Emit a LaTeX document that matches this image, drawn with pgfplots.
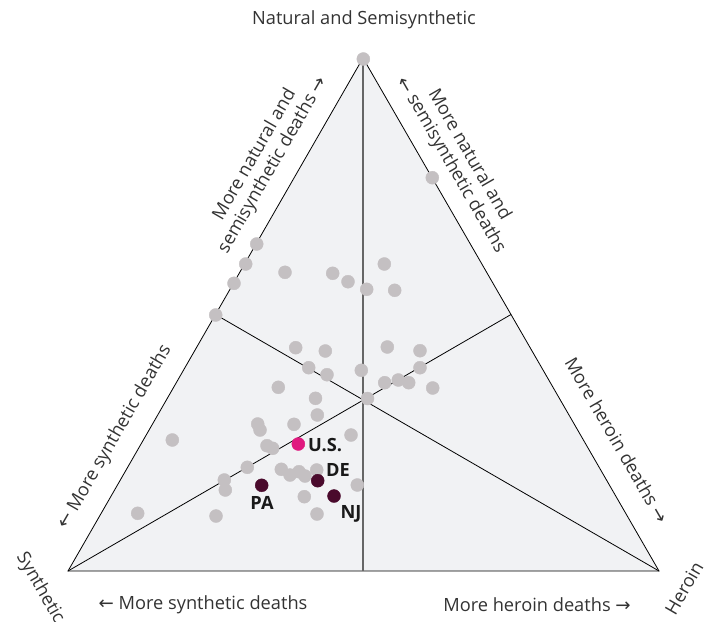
\documentclass[border=0pt]{standalone}
\usepackage{pgfplots}
\pgfplotsset{compat=1.18}
\usepackage{fontspec}
\setmainfont{Open Sans}
\newfontfamily\sym{DejaVu Sans}
\definecolor{tri}{HTML}{F1F2F4}
\definecolor{dot}{HTML}{C4C0C2}
\definecolor{us}{HTML}{E0197F}
\definecolor{state}{HTML}{4A0A2C}
\definecolor{txt}{HTML}{333333}
\newcommand{\la}{{\sym\char"2190}}
\newcommand{\ra}{{\sym\char"2192}}

\pgfplotstableread{
x y
363.3 59
432.3 177.7
256.7 244
245.7 264
234.0 283.3
215.7 315
285.0 272.3
332.7 273.3
348.0 281.7
366.7 289.3
384.3 264
394.7 290.3
295.7 347.7
325.3 351
308.7 367.7
327.0 374.7
361.3 370.3
387.3 347
420.0 350.7
420.0 367.7
384.7 382.7
398.3 380
408.7 382.7
432.7 388
278.3 387.3
315.5 398.3
367.5 398.5
317.3 415
257.7 424
260.0 430
294.0 424.3
172.3 440
351.0 435
267.0 445.7
272.7 448.3
247.3 467.3
281.3 469.3
290.0 475
299.0 471.7
305.0 476
316.7 470
224.3 480
225.3 490
357.3 485
304.3 496.7
137.7 513.3
216.0 516
317.0 514
}\others

\begin{document}
\begin{tikzpicture}
\begin{axis}[
  width=714bp, height=622bp,
  scale only axis,
  xmin=0, xmax=714, ymin=0, ymax=622,
  y dir=reverse,
  axis lines=none,
  clip=false,
  font=\fontsize{18.3}{21}\selectfont,
]
% triangle
\addplot[fill=tri, draw=black, line width=0.8bp] coordinates {(363,58) (68,571) (659,571)} -- cycle;
% medians
\addplot[black, line width=0.8bp] coordinates {(215.5,314.5) (659,571)};
\addplot[black, line width=0.8bp] coordinates {(68,571) (511,314.5)};
\addplot[black!60, line width=1.2bp] coordinates {(363,58) (363,571)};
% points
\addplot[only marks, mark=*, mark size=6.5bp, color=dot] table {\others};
\addplot[only marks, mark=*, mark size=6.5bp, color=us] coordinates {(298.3,444)};
\addplot[only marks, mark=*, mark size=6.5bp, color=state] coordinates {(317.7,480.7) (261.7,485.3) (334,496)};

% state labels
\node[anchor=west, inner sep=1bp, font=\fontsize{18.3}{21}\selectfont\bfseries, text=black!90] at (axis cs:307,445) {U.S.};
\node[anchor=west, inner sep=1bp, font=\fontsize{18.3}{21}\selectfont\bfseries, text=black!90] at (axis cs:325,470) {DE};
\node[inner sep=1bp, font=\fontsize{18.3}{21}\selectfont\bfseries, text=black!90] at (axis cs:262,503) {PA};
\node[inner sep=1bp, font=\fontsize{18.3}{21}\selectfont\bfseries, text=black!90] at (axis cs:351,514) {NJ};

% axis titles
\node[text=txt, inner sep=1bp] at (axis cs:364,20) {Natural and Semisynthetic};
\node[text=txt, inner sep=1bp, rotate=-60] at (axis cs:40,588) {Synthetic};
\node[text=txt, inner sep=1bp, rotate=60] at (axis cs:684,588) {Heroin};

% edge annotations
\node[text=txt, inner sep=1bp, rotate=60, align=center, font=\fontsize{18.3}{21}\selectfont] at (axis cs:264,160) {More natural and\\semisynthetic deaths \ra};
\node[text=txt, inner sep=1bp, rotate=-60, align=center, font=\fontsize{18.3}{21}\selectfont] at (axis cs:460,160) {More natural and\\\la{} semisynthetic deaths};
\node[text=txt, inner sep=1bp, rotate=60] at (axis cs:115,437) {\la{} More synthetic deaths};
\node[text=txt, inner sep=1bp, rotate=-60] at (axis cs:617,440) {More heroin deaths \ra};
\node[text=txt, inner sep=1bp] at (axis cs:203,605) {\la{} More synthetic deaths};
\node[text=txt, inner sep=1bp] at (axis cs:537,605) {More heroin deaths \ra};
\end{axis}
\pgfresetboundingbox
\path (current axis.south west) rectangle (current axis.north east);
\end{tikzpicture}
\end{document}
